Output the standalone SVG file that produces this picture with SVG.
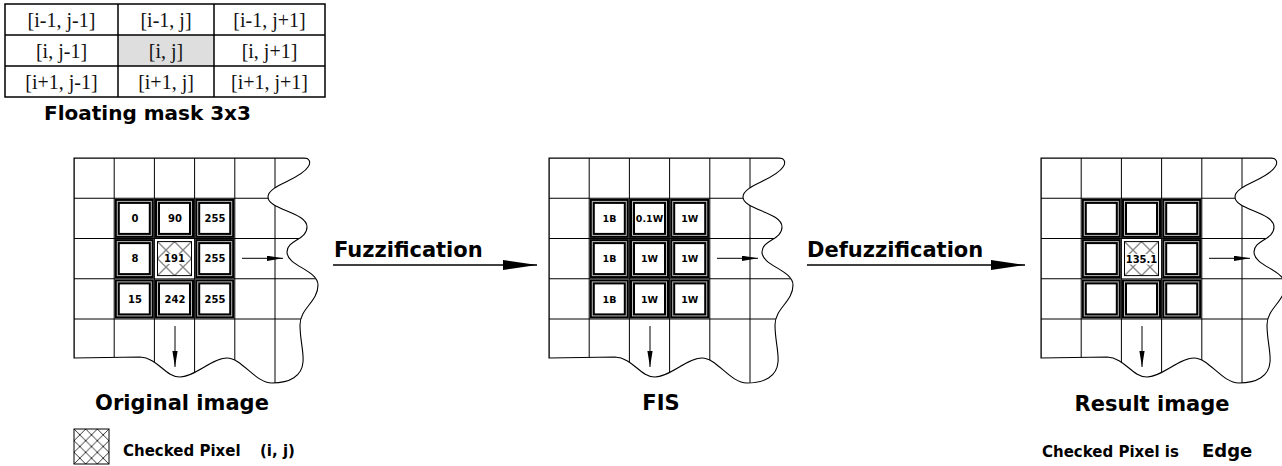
<svg xmlns="http://www.w3.org/2000/svg" width="1282" height="466" viewBox="0 0 1282 466">
<style>
  .bg{fill:#fff}
  .tbl{fill:none;stroke:#000;stroke-width:1.5}
  .tcell{font-family:"Liberation Serif","Times New Roman",serif;font-size:20px;fill:#111;text-anchor:middle}
  .title{font-family:"DejaVu Sans",Verdana,sans-serif;font-weight:bold;fill:#000}
  .gl{fill:none;stroke:#000;stroke-width:1}
  .wave{fill:none;stroke:#000;stroke-width:1.1}
  .fo{fill:#fff;stroke:#000;stroke-width:5}
  .fi{fill:none;stroke:#bbb;stroke-width:1}
  .val{font-family:"DejaVu Sans",Verdana,sans-serif;font-weight:bold;font-size:10px;fill:#000;text-anchor:middle}
  .val2{font-family:"DejaVu Sans",Verdana,sans-serif;font-weight:bold;font-size:9.5px;fill:#000;text-anchor:middle}
  .small{fill:none;stroke:#000;stroke-width:1}
  .big{fill:none;stroke:#000;stroke-width:1.5}
</style>
<defs>
  <clipPath id="waveClip" clipPathUnits="userSpaceOnUse">
    <path d="M0,0 L230,0 C236,0 237,5 234,9 C226,22 194,27 194,39 C194,52 233,54 233,69 C233,82 213,82 213,94 C213,108 244,112 244,127 C244,144 226,150 226,167 C226,182 230,194 229,204 C228,218 216,225 198,225 C181,225 168,200 153,200 C138,200 121,219 106,219 C91,219 84,200 66,199 L0,200 Z"/>
  </clipPath>
  <path id="waveOutline" d="M0,0 L230,0 C236,0 237,5 234,9 C226,22 194,27 194,39 C194,52 233,54 233,69 C233,82 213,82 213,94 C213,108 244,112 244,127 C244,144 226,150 226,167 C226,182 230,194 229,204 C228,218 216,225 198,225 C181,225 168,200 153,200 C138,200 121,219 106,219 C91,219 84,200 66,199 L0,200 Z"/>
  <path id="gridLines" d="M0,0V240 M40.2,0V240 M80.4,0V240 M120.6,0V240 M160.8,0V240 M201,0V240 M0,0H260 M0,40.25H260 M0,80.5H260 M0,120.75H260 M0,161H260"/>
  <pattern id="hatchCell" patternUnits="userSpaceOnUse" x="83.5" y="83.6" width="17" height="17">
    <path d="M0,0 L17,17 M17,0 L0,17" stroke="#000" stroke-width="0.9"/>
  </pattern>
  <pattern id="hatchLegend" patternUnits="userSpaceOnUse" x="74" y="429" width="11.667" height="11.667">
    <path d="M0,0 L11.667,11.667 M11.667,0 L0,11.667" stroke="#000" stroke-width="0.8"/>
  </pattern>
  <marker id="bigHead" markerUnits="userSpaceOnUse" markerWidth="36" markerHeight="11" refX="34" refY="5" orient="auto">
    <path d="M0,0 L34,5 L0,10 Z" fill="#000"/>
  </marker>
  <marker id="smallHead" markerUnits="userSpaceOnUse" markerWidth="17" markerHeight="6" refX="16" refY="2.6" orient="auto">
    <path d="M0,0 L16,2.6 L0,5.2 Z" fill="#000"/>
  </marker>
  <g id="frame"><rect class="fo" x="-17" y="-17" width="34" height="34"/><rect class="fi" x="-17" y="-17" width="34" height="34"/></g>
</defs>
<rect class="bg" x="0" y="0" width="1282" height="466"/>

<g id="mask-table">
  <rect x="118" y="35" width="96" height="31" fill="#dedede"/>
  <rect class="tbl" x="5" y="4" width="320" height="93"/>
  <path class="tbl" d="M118,4V97 M214,4V97 M5,35H325 M5,66H325"/>
  <text class="tcell" x="61.5" y="27">[i-1, j-1]</text>
  <text class="tcell" x="166" y="27">[i-1, j]</text>
  <text class="tcell" x="269.5" y="27">[i-1, j+1]</text>
  <text class="tcell" x="61.5" y="58">[i, j-1]</text>
  <text class="tcell" x="166" y="58">[i, j]</text>
  <text class="tcell" x="269.5" y="58">[i, j+1]</text>
  <text class="tcell" x="61.5" y="89">[i+1, j-1]</text>
  <text class="tcell" x="166" y="89">[i+1, j]</text>
  <text class="tcell" x="269.5" y="89">[i+1, j+1]</text>
  <text class="title" x="44" y="120" font-size="20">Floating mask 3x3</text>
</g>

<g id="original-image" transform="translate(74,158)">
  <g clip-path="url(#waveClip)"><use href="#gridLines" class="gl"/></g>
  <use href="#waveOutline" class="wave"/>
  <use href="#frame" x="60.3" y="60.4"/><use href="#frame" x="100.5" y="60.4"/><use href="#frame" x="140.7" y="60.4"/>
  <use href="#frame" x="60.3" y="100.6"/><use href="#frame" x="140.7" y="100.6"/>
  <use href="#frame" x="60.3" y="140.9"/><use href="#frame" x="100.5" y="140.9"/><use href="#frame" x="140.7" y="140.9"/>
  <rect x="81" y="81.2" width="39" height="39" fill="#fff"/>
  <rect x="83.5" y="83.6" width="34" height="34" fill="url(#hatchCell)" stroke="#000" stroke-width="1"/>
  <rect x="89.5" y="96" width="22" height="10" fill="#fff"/>
  <text class="val" x="61" y="64">0</text>
  <text class="val" x="101" y="64">90</text>
  <text class="val" x="141" y="64">255</text>
  <text class="val" x="61" y="104.3">8</text>
  <text class="val" x="100.5" y="104.3">191</text>
  <text class="val" x="141" y="104.3">255</text>
  <text class="val" x="61" y="144.6">15</text>
  <text class="val" x="101" y="144.6">242</text>
  <text class="val" x="141" y="144.6">255</text>
  <path class="small" d="M168,100.3H209" marker-end="url(#smallHead)"/>
  <path class="small" d="M101,168V209" marker-end="url(#smallHead)"/>
  <text class="title" x="108" y="252" font-size="21" text-anchor="middle">Original image</text>
</g>

<g id="fis" transform="translate(549,158)">
  <g clip-path="url(#waveClip)"><use href="#gridLines" class="gl"/></g>
  <use href="#waveOutline" class="wave"/>
  <use href="#frame" x="60.3" y="60.4"/><use href="#frame" x="100.5" y="60.4"/><use href="#frame" x="140.7" y="60.4"/>
  <use href="#frame" x="60.3" y="100.6"/><use href="#frame" x="100.5" y="100.6"/><use href="#frame" x="140.7" y="100.6"/>
  <use href="#frame" x="60.3" y="140.9"/><use href="#frame" x="100.5" y="140.9"/><use href="#frame" x="140.7" y="140.9"/>
  <text class="val2" x="60.5" y="64">1B</text>
  <text class="val2" x="100.5" y="64">0.1W</text>
  <text class="val2" x="140.7" y="64">1W</text>
  <text class="val2" x="60.5" y="104.3">1B</text>
  <text class="val2" x="100.5" y="104.3">1W</text>
  <text class="val2" x="140.7" y="104.3">1W</text>
  <text class="val2" x="60.5" y="144.6">1B</text>
  <text class="val2" x="100.5" y="144.6">1W</text>
  <text class="val2" x="140.7" y="144.6">1W</text>
  <path class="small" d="M168,100.3H209" marker-end="url(#smallHead)"/>
  <path class="small" d="M101,168V209" marker-end="url(#smallHead)"/>
  <text class="title" x="112" y="252" font-size="21" text-anchor="middle">FIS</text>
</g>

<g id="result-image" transform="translate(1041,158)">
  <g clip-path="url(#waveClip)"><use href="#gridLines" class="gl"/></g>
  <use href="#waveOutline" class="wave"/>
  <use href="#frame" x="60.3" y="60.4"/><use href="#frame" x="100.5" y="60.4"/><use href="#frame" x="140.7" y="60.4"/>
  <use href="#frame" x="60.3" y="100.6"/><use href="#frame" x="140.7" y="100.6"/>
  <use href="#frame" x="60.3" y="140.9"/><use href="#frame" x="100.5" y="140.9"/><use href="#frame" x="140.7" y="140.9"/>
  <rect x="81" y="81.2" width="39" height="39" fill="#fff"/>
  <rect x="83.5" y="83.6" width="34" height="34" fill="url(#hatchCell)" stroke="#000" stroke-width="1"/>
  <rect x="84" y="96" width="33" height="10.5" fill="#fff"/>
  <text class="val" x="100.5" y="104.6" font-size="10.8">135.1</text>
  <path class="small" d="M168,100.3H209" marker-end="url(#smallHead)"/>
  <path class="small" d="M101,168V209" marker-end="url(#smallHead)"/>
  <text class="title" x="111" y="253" font-size="21" text-anchor="middle">Result image</text>
</g>

<g id="connectors">
  <path class="big" d="M333,265H537" marker-end="url(#bigHead)"/>
  <text class="title" x="334" y="257" font-size="21">Fuzzification</text>
  <path class="big" d="M807,265H1025" marker-end="url(#bigHead)"/>
  <text class="title" x="807" y="257" font-size="21">Defuzzification</text>
</g>

<g id="legend">
  <rect x="74" y="429" width="35" height="35" fill="url(#hatchLegend)" stroke="#000" stroke-width="1"/>
  <text class="title" x="123" y="456" font-size="15">Checked Pixel</text>
  <text class="title" x="260" y="456" font-size="15">(i, j)</text>
</g>

<g id="result-note">
  <text class="title" x="1042" y="457" font-size="15">Checked Pixel is</text>
  <text class="title" x="1202" y="457" font-size="18">Edge</text>
</g>
</svg>
